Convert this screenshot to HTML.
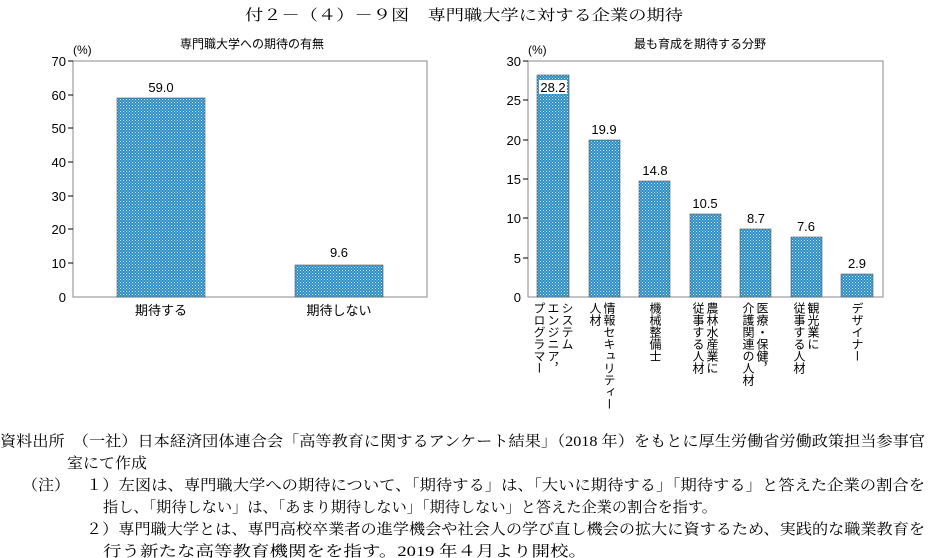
<!DOCTYPE html>
<html><head><meta charset="utf-8"><style>
html,body{margin:0;padding:0;background:#fff;width:929px;height:558px;overflow:hidden}
svg{display:block}
.s{font-family:"Liberation Sans","Noto Sans CJK JP",sans-serif;font-size:12px;fill:#000}
.t{font-family:"Liberation Sans","Noto Sans CJK JP",sans-serif;font-size:13px;fill:#000}
.m{font-family:"Liberation Serif","Noto Serif CJK SC",serif;font-size:15px;fill:#000}
.v{font-family:"Liberation Sans","Noto Sans CJK JP",sans-serif;font-size:12px;fill:#000;writing-mode:tb;glyph-orientation-vertical:0}
</style></head><body>
<svg width="929" height="558" xmlns="http://www.w3.org/2000/svg">
<defs>
<pattern id="p" width="3" height="3" patternUnits="userSpaceOnUse">
<rect width="3" height="3" fill="#2a8cc6"/>
<rect x="0" y="0" width="1" height="1" fill="#cfe9f7"/>
<rect x="1.5" y="1.5" width="1" height="1" fill="#bfe1f3"/>
</pattern>
</defs>
<text class="m" x="245" y="20" font-size="17" textLength="438" lengthAdjust="spacingAndGlyphs">付２－（４）－９図　専門職大学に対する企業の期待</text>

<!-- left chart -->
<text class="s" x="252" y="48" text-anchor="middle">専門職大学への期待の有無</text>
<text class="s" x="73" y="54" font-size="11">(%)</text>
<rect x="73" y="61" width="354" height="236" fill="none" stroke="#888" stroke-width="1"/>
<g class="t" text-anchor="end">
<text x="66" y="66">70</text><text x="66" y="100">60</text><text x="66" y="133">50</text><text x="66" y="167">40</text><text x="66" y="201">30</text><text x="66" y="234">20</text><text x="66" y="268">10</text><text x="66" y="302">0</text>
</g>
<g stroke="#000"><line x1="68" y1="61" x2="73" y2="61"/><line x1="68" y1="95" x2="73" y2="95"/><line x1="68" y1="128" x2="73" y2="128"/><line x1="68" y1="162" x2="73" y2="162"/><line x1="68" y1="196" x2="73" y2="196"/><line x1="68" y1="229" x2="73" y2="229"/><line x1="68" y1="263" x2="73" y2="263"/></g>
<rect x="117" y="98" width="88" height="199" fill="url(#p)" stroke="#555" stroke-width="0.6"/>
<rect x="295" y="265" width="88" height="32" fill="url(#p)" stroke="#555" stroke-width="0.6"/>
<text class="t" x="161" y="92" text-anchor="middle">59.0</text>
<text class="t" x="339" y="257" text-anchor="middle">9.6</text>
<text class="t" x="161" y="315" text-anchor="middle">期待する</text>
<text class="t" x="339" y="315" text-anchor="middle">期待しない</text>

<!-- right chart -->
<text class="s" x="700" y="48" text-anchor="middle">最も育成を期待する分野</text>
<text class="s" x="528" y="54" font-size="11">(%)</text>
<rect x="528" y="61" width="355" height="236" fill="none" stroke="#888" stroke-width="1"/>
<g class="t" text-anchor="end">
<text x="521" y="66">30</text><text x="521" y="105">25</text><text x="521" y="145">20</text><text x="521" y="184">15</text><text x="521" y="223">10</text><text x="521" y="263">5</text><text x="521" y="302">0</text>
</g>
<g stroke="#000"><line x1="523" y1="61" x2="528" y2="61"/><line x1="523" y1="100" x2="528" y2="100"/><line x1="523" y1="140" x2="528" y2="140"/><line x1="523" y1="179" x2="528" y2="179"/><line x1="523" y1="218" x2="528" y2="218"/><line x1="523" y1="258" x2="528" y2="258"/></g>
<g fill="url(#p)" stroke="#555" stroke-width="0.6">
<rect x="537" y="75" width="32" height="222"/>
<rect x="589" y="140" width="31" height="157"/>
<rect x="639" y="181" width="31" height="116"/>
<rect x="690" y="214" width="31" height="83"/>
<rect x="740" y="229" width="31" height="68"/>
<rect x="791" y="237" width="31" height="60"/>
<rect x="841" y="274" width="32" height="23"/>
</g>
<rect x="539" y="80" width="28" height="14" fill="#fff"/>
<g class="t" text-anchor="middle">
<text x="553" y="92">28.2</text>
<text x="604" y="134">19.9</text>
<text x="655" y="175">14.8</text>
<text x="705" y="208">10.5</text>
<text x="756" y="223">8.7</text>
<text x="806" y="231">7.6</text>
<text x="857" y="268">2.9</text>
</g>
<g class="v">
<text x="567" y="302">システム</text>
<text x="553" y="302">エンジニア，</text>
<text x="539" y="302">プログラマー</text>
<text x="609" y="302">情報セキュリティー</text>
<text x="595" y="302">人材</text>
<text x="655" y="302">機械整備士</text>
<text x="712" y="302">農林水産業に</text>
<text x="698" y="302">従事する人材</text>
<text x="762" y="302">医療・保健，</text>
<text x="748" y="302">介護関連の人材</text>
<text x="813" y="302">観光業に</text>
<text x="799" y="302">従事する人材</text>
<text x="857" y="302">デザイナー</text>
</g>

<!-- notes -->
<text class="m" x="0" y="446" textLength="925" lengthAdjust="spacingAndGlyphs">資料出所　（一社）日本経済団体連合会「高等教育に関するアンケート結果」（2018 年）をもとに厚生労働省労働政策担当参事官</text>
<text class="m" x="67" y="468" textLength="80" lengthAdjust="spacingAndGlyphs">室にて作成</text>
<text class="m" x="22" y="490" textLength="48" lengthAdjust="spacingAndGlyphs">（注）</text>
<text class="m" x="86" y="490" textLength="839" lengthAdjust="spacingAndGlyphs">１）左図は、専門職大学への期待について、「期待する」は、「大いに期待する」「期待する」と答えた企業の割合を</text>
<text class="m" x="103" y="512" textLength="614" lengthAdjust="spacingAndGlyphs">指し、「期待しない」は、「あまり期待しない」「期待しない」と答えた企業の割合を指す。</text>
<text class="m" x="86" y="534" textLength="839" lengthAdjust="spacingAndGlyphs">２）専門職大学とは、専門高校卒業者の進学機会や社会人の学び直し機会の拡大に資するため、実践的な職業教育を</text>
<text class="m" x="103" y="556" textLength="484" lengthAdjust="spacingAndGlyphs">行う新たな高等教育機関をを指す。2019 年４月より開校。</text>
</svg>
</body></html>
